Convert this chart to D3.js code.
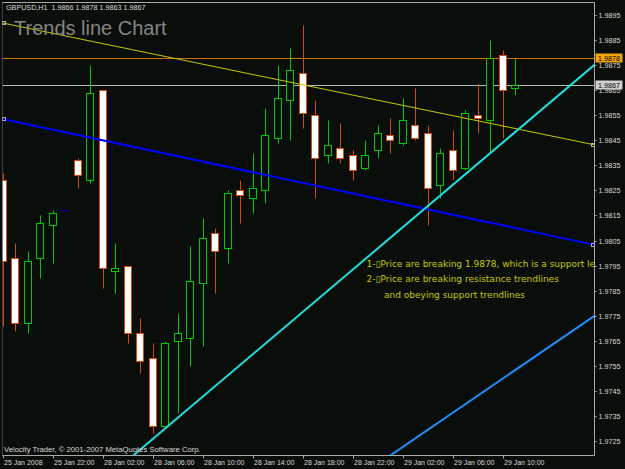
<!DOCTYPE html>
<html><head><meta charset="utf-8">
<script src="https://cdn.jsdelivr.net/npm/d3@7"></script>
<style>body{margin:0;background:#0a0e0a}</style>
</head><body><div></div>
<script>
const width = 625, height = 469
const svg = d3.select("div").append("svg")
	.attr("xmlns", "http://www.w3.org/2000/svg")
	.attr("width", width)
	.attr("height", height)
	.style("display", "block")
	.style("background", "#0a0e0a")

// data: GBPUSD H1 bars, 25 Jan 2008 18:00 .. 29 Jan 2008 11:00
const opens  = [1.9829,1.9798,1.9772,1.9798,1.9811,1.9817,1.9837,1.9829,1.9865,1.9793,1.9795,1.9768,1.9758,1.9731,1.9765,1.9766,1.9788,1.9808,1.9802,1.9825,1.9822,1.9825,1.9846,1.9861,1.9872,1.9855,1.9839,1.9842,1.9839,1.9834,1.9841,1.9847,1.9844,1.9851,1.9848,1.9827,1.9841,1.9834,1.9855,1.9853,1.9879,1.9866]
const highs  = [1.9832,1.9804,1.9801,1.9815,1.9817,1.9817,1.9838,1.9875,1.9865,1.9804,1.9795,1.9774,1.9764,1.9765,1.9776,1.9803,1.9814,1.9810,1.9825,1.9829,1.9840,1.9858,1.9875,1.9882,1.9891,1.9861,1.9853,1.9852,1.9841,1.9845,1.9851,1.9854,1.9862,1.9866,1.9851,1.9842,1.9849,1.9857,1.9868,1.9885,1.9881,1.9878]
const lows   = [1.9771,1.9769,1.9768,1.9790,1.9796,1.9817,1.9826,1.9828,1.9786,1.9784,1.9764,1.9752,1.9728,1.9730,1.9736,1.9755,1.9763,1.9784,1.9796,1.9812,1.9816,1.9820,1.9844,1.9845,1.9850,1.9822,1.9836,1.9836,1.9829,1.9833,1.9838,1.9840,1.9843,1.9845,1.9811,1.9822,1.9829,1.9833,1.9848,1.9840,1.9846,1.9863]
const closes = [1.9797,1.9772,1.9797,1.9812,1.9816,1.9817,1.9831,1.9864,1.9794,1.9794,1.9768,1.9757,1.9731,1.9764,1.9768,1.9789,1.9806,1.9801,1.9824,1.9823,1.9826,1.9847,1.9862,1.9873,1.9856,1.9838,1.9843,1.9838,1.9833,1.9839,1.9848,1.9845,1.9853,1.9846,1.9826,1.9840,1.9833,1.9856,1.9854,1.9878,1.9865,1.9867]

const timeTickIdx = [0,4,8,12,16,20,24,28,32,36,40]
const timeLabels = ["25 Jan 2008","25 Jan 22:00","28 Jan 02:00","28 Jan 06:00","28 Jan 10:00","28 Jan 14:00","28 Jan 18:00","28 Jan 22:00","29 Jan 02:00","29 Jan 06:00","29 Jan 10:00"]
const priceTicks = [1.9895,1.9885,1.9875,1.9865,1.9855,1.9845,1.9835,1.9825,1.9815,1.9805,1.9795,1.9785,1.9775,1.9765,1.9755,1.9745,1.9735,1.9725]

// trendlines: two anchors each [bar index, price]
const trendAnchors = [
	[[0, 1.98918], [41, 1.98497]],   // yellow resistance
	[[0, 1.98535], [41, 1.98100]],   // blue resistance
	[[13, 1.97300], [41, 1.98483]],  // cyan support
	[[31, 1.97192], [41, 1.97533]]   // lower support
]
const trendColors = ["#c8c800", "#0000ff", "#20dede", "#1e8fff"]
const trendWidths = [1, 2, 2, 2]
const trendHandles = [true, true, false, false]

const levelPrice = 1.9878   // horizontal line
const bidPrice = 1.9867

const noteLines = [
	"1-\u25AFPrice are breaking 1.9878, which is a support level",
	"2-\u25AFPrice are breaking resistance trendlines",
	"and obeying support trendlines"
]

// settings
const plot = {left: 2.5, right: 594.5, top: 2.5, bottom: 455.5}
const bullColor = "#00c800"
const bearColor = "#d8480c"
const dojiColor = "#0000c8"
const bgColor = "#0a0e0a"
const axisColor = "#a8a8a8"
const textColor = "#d8d8d8"
const fontAxis = "'Liberation Sans', Arial, sans-serif"

// scales
const x = d3.scaleLinear().domain([0, 41]).range([2.7, 515.2])
const y = d3.scaleLinear().domain([1.9725, 1.9895]).range([441, 15])
const py = p => Math.round(y(p)) + 0.5

svg.append("defs").append("clipPath").attr("id", "plotclip")
	.append("rect")
	.attr("x", plot.left).attr("y", plot.top)
	.attr("width", plot.right - plot.left).attr("height", plot.bottom - plot.top)

const g = svg.append("g").attr("clip-path", "url(#plotclip)")

// title + header
svg.append("text")
	.attr("x", 14).attr("y", 35)
	.attr("font-family", fontAxis).attr("font-size", 20)
	.attr("fill", "#858585")
	.text("Trends line Chart")
svg.append("text")
	.attr("x", 6).attr("y", 10)
	.attr("font-family", fontAxis).attr("font-size", 7.2)
	.attr("fill", textColor)
	.attr("xml:space", "preserve")
	.text("GBPUSD,H1  1.9866 1.9878 1.9863 1.9867")

// horizontal lines
g.append("line")
	.attr("x1", plot.left).attr("x2", plot.right)
	.attr("y1", py(levelPrice)).attr("y2", py(levelPrice))
	.attr("stroke", "#c87000")
g.append("line")
	.attr("x1", plot.left).attr("x2", plot.right)
	.attr("y1", py(bidPrice)).attr("y2", py(bidPrice))
	.attr("stroke", "#b8b8b8")

// candles
const bars = d3.range(opens.length).map(i => ({i, o: opens[i], h: highs[i], l: lows[i], c: closes[i]}))
const color = d => d.o == d.c ? dojiColor : (d.c > d.o ? bullColor : bearColor)
const left = d => Math.round(x(d.i) - 4)

g.selectAll().data(bars).enter().append("line")
	.attr("x1", d => left(d) + 4.5).attr("x2", d => left(d) + 4.5)
	.attr("y1", d => py(d.h)).attr("y2", d => py(d.l))
	.attr("stroke", color)
g.selectAll().data(bars.filter(d => d.o != d.c)).enter().append("rect")
	.attr("x", d => left(d) + 0.5)
	.attr("y", d => py(Math.max(d.o, d.c)))
	.attr("width", 7)
	.attr("height", d => Math.max(1, py(Math.min(d.o, d.c)) - py(Math.max(d.o, d.c))))
	.attr("fill", d => d.c > d.o ? bgColor : "#ffffff")
	.attr("stroke", color)
g.selectAll().data(bars.filter(d => d.o == d.c)).enter().append("line")
	.attr("x1", d => left(d)).attr("x2", d => left(d) + 8)
	.attr("y1", d => py(d.o)).attr("y2", d => py(d.o))
	.attr("stroke", color)

// trendlines, extended over the whole plot
const xl = x.invert(plot.left), xr = x.invert(plot.right)
trendAnchors.forEach((a, k) => {
	const slope = (a[1][1] - a[0][1]) / (a[1][0] - a[0][0])
	const at = t => a[0][1] + slope * (t - a[0][0])
	g.append("line")
		.attr("x1", x(xl)).attr("y1", y(at(xl)))
		.attr("x2", x(xr)).attr("y2", y(at(xr)))
		.attr("stroke", trendColors[k])
		.attr("stroke-width", trendWidths[k])
	if (trendHandles[k]) {
		[[x(xl) + 1.5, y(at(xl))], [x(xr) - 1.5, y(at(xr))]].forEach(p => {
			svg.append("rect")
				.attr("x", Math.round(p[0]) - 1.5).attr("y", Math.round(p[1]) - 1.5)
				.attr("width", 3).attr("height", 3)
				.attr("fill", "none").attr("stroke", "#b0b0b0")
		})
	}
})

// notes
g.selectAll().data(noteLines).enter().append("text")
	.attr("x", (d, i) => i == 2 ? 384 : 366.5)
	.attr("y", (d, i) => 266.5 + i * 15.5)
	.attr("font-family", "'DejaVu Sans', sans-serif")
	.attr("font-size", 9)
	.attr("fill", "#c8c800")
	.text(d => d)

// copyright
svg.append("text")
	.attr("x", 4).attr("y", 452)
	.attr("font-family", fontAxis).attr("font-size", 7.7)
	.attr("fill", textColor)
	.text("Velocity Trader, \u00A9 2001-2007 MetaQuotes Software Corp.")

// frame
svg.append("line").attr("x1", plot.left).attr("x2", plot.left).attr("y1", plot.top).attr("y2", plot.bottom)
	.attr("stroke", "#707070").attr("stroke-dasharray", "1,1")
svg.append("path")
	.attr("d", `M${plot.left},${plot.top}H${plot.right}V${plot.bottom}H${plot.left}`)
	.attr("fill", "none").attr("stroke", axisColor)

// price axis
svg.selectAll().data(priceTicks).enter().append("line")
	.attr("x1", plot.right).attr("x2", plot.right + 2)
	.attr("y1", d => py(d)).attr("y2", d => py(d))
	.attr("stroke", axisColor)
svg.selectAll().data(priceTicks).enter().append("text")
	.attr("x", 598.5).attr("y", d => py(d) + 2.5)
	.attr("font-family", fontAxis).attr("font-size", 7.2)
	.attr("fill", textColor)
	.text(d => d.toFixed(4))

// price boxes
const boxes = [[levelPrice, "#f4a400"], [bidPrice, "#d0d0d0"]]
boxes.forEach(b => {
	svg.append("rect")
		.attr("x", 595.5).attr("y", py(b[0]) - 5)
		.attr("width", 27).attr("height", 9)
		.attr("fill", b[1])
	svg.append("text")
		.attr("x", 598).attr("y", py(b[0]) + 2.5)
		.attr("font-family", fontAxis).attr("font-size", 7.2)
		.attr("fill", "#000")
		.text(b[0].toFixed(4))
})

// time axis
svg.selectAll().data(timeTickIdx).enter().append("line")
	.attr("x1", d => Math.round(x(d)) + 0.5).attr("x2", d => Math.round(x(d)) + 0.5)
	.attr("y1", plot.bottom).attr("y2", plot.bottom + 3)
	.attr("stroke", axisColor)
svg.selectAll().data(timeTickIdx).enter().append("text")
	.attr("x", d => Math.round(x(d)) + 1)
	.attr("y", 465)
	.attr("font-family", fontAxis).attr("font-size", 7)
	.attr("fill", textColor)
	.text((d, i) => timeLabels[i])
</script>
</body></html>
